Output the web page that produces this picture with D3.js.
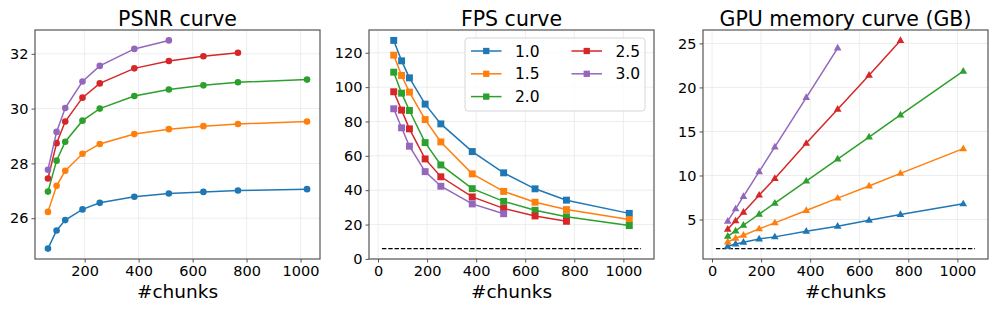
<!DOCTYPE html>
<html>
<head>
<meta charset="utf-8">
<script src="https://cdn.jsdelivr.net/npm/d3@7"></script>
<style>
  body { margin: 0; background: #fff; }
  svg { font-family: "DejaVu Sans", sans-serif; }
</style>
</head>
<body>
<div id="container"></div>
<script>
// x values shared by every curve
const chunks = [64, 96, 128, 192, 256, 384, 512, 640, 768, 1024];
const seriesNames = ["1.0", "1.5", "2.0", "2.5", "3.0"];
const colors = ["#1f77b4", "#ff7f0e", "#2ca02c", "#d62728", "#9467bd"];

// PSNR
const psnr10 = [24.89, 25.55, 25.93, 26.32, 26.56, 26.78, 26.90, 26.96, 27.01, 27.06];
const psnr15 = [26.23, 27.18, 27.73, 28.35, 28.71, 29.07, 29.25, 29.36, 29.44, 29.53];
const psnr20 = [26.97, 28.10, 28.79, 29.56, 30.00, 30.46, 30.70, 30.85, 30.96, 31.06];
const psnr25 = [27.45, 28.74, 29.53, 30.40, 30.92, 31.47, 31.74, 31.91, 32.04];
const psnr30 = [27.77, 29.15, 30.02, 30.99, 31.56, 32.18, 32.49];

// FPS
const fps10 = [127.2, 115.3, 105.4, 90.1, 78.6, 62.5, 50.1, 40.8, 34.2, 26.5];
const fps15 = [118.6, 106.8, 97.1, 81.1, 68.1, 49.5, 39.3, 33.0, 28.7, 22.9];
const fps20 = [108.7, 96.5, 86.4, 67.7, 54.7, 40.9, 33.5, 28.3, 24.5, 19.4];
const fps25 = [97.3, 86.6, 75.7, 58.2, 47.8, 36.1, 29.4, 25.0, 21.9];
const fps30 = [87.4, 76.3, 65.6, 50.8, 42.3, 32.0, 26.3];

// GPU memory (GB)
const gpu10 = [1.96, 2.23, 2.42, 2.80, 3.03, 3.67, 4.24, 4.92, 5.57, 6.78];
const gpu15 = [2.46, 2.87, 3.22, 3.94, 4.62, 6.02, 7.43, 8.80, 10.24, 13.05];
const gpu20 = [3.10, 3.71, 4.35, 5.61, 6.86, 9.36, 11.87, 14.37, 16.88, 21.85];
const gpu25 = [3.90, 4.85, 5.83, 7.77, 9.67, 13.65, 17.52, 21.39, 25.34];
const gpu30 = [4.81, 6.21, 7.62, 10.43, 13.24, 18.85, 24.47];

// dashed reference lines
const refX = [16, 1072];
const fpsRef = 6;
const gpuRef = 1.7;

const psnrTicks = [26, 28, 30, 32];
const fpsTicks = [0, 20, 40, 60, 80, 100, 120];
const gpuTicks = [5, 10, 15, 20, 25];
const xTicks = [0, 200, 400, 600, 800, 1000];

const W = 997, H = 312;
const svg = d3.select("#container").append("svg")
  .attr("width", W).attr("height", H);

// matplotlib style auto limits: 5% margin
function padded(ext) {
  const r = ext[1] - ext[0];
  return [ext[0] - r * 0.05, ext[1] + r * 0.05];
}

const panels = [
  { title: "PSNR curve", left: 35, series: [psnr10, psnr15, psnr20, psnr25, psnr30],
    marker: "circle", yTicks: psnrTicks, ref: null },
  { title: "FPS curve", left: 369, series: [fps10, fps15, fps20, fps25, fps30],
    marker: "square", yTicks: fpsTicks, ref: fpsRef, legend: true },
  { title: "GPU memory curve (GB)", left: 703, series: [gpu10, gpu15, gpu20, gpu25, gpu30],
    marker: "triangle", yTicks: gpuTicks, ref: gpuRef }
];

const pw = 285, ph = 229, plotTop = 30;

function drawMarker(g, type, x, y, color, size) {
  if (type === "circle") {
    g.append("circle").attr("cx", x).attr("cy", y).attr("r", size * 0.5)
      .attr("fill", color);
  } else if (type === "square") {
    const s = size * 1.05;
    g.append("rect").attr("x", x - s / 2).attr("y", y - s / 2)
      .attr("width", s).attr("height", s).attr("fill", color);
  } else {
    const s = size * 0.58;
    g.append("path")
      .attr("d", `M${x},${y - s * 1.1}L${x + s},${y + s * 0.65}L${x - s},${y + s * 0.65}Z`)
      .attr("fill", color);
  }
}

panels.forEach(p => {
  const g = svg.append("g").attr("transform", `translate(${p.left},${plotTop})`);

  let xs = chunks.slice();
  let ys = [].concat(...p.series);
  if (p.ref !== null) { xs = xs.concat(refX); ys.push(p.ref); }

  const x = d3.scaleLinear().domain(padded(d3.extent(xs))).range([0, pw]);
  const y = d3.scaleLinear().domain(padded(d3.extent(ys))).range([ph, 0]);

  const xt = xTicks.filter(t => t >= x.domain()[0] && t <= x.domain()[1]);

  // grid
  g.append("g").selectAll("line").data(xt).join("line")
    .attr("x1", d => x(d)).attr("x2", d => x(d)).attr("y1", 0).attr("y2", ph)
    .attr("stroke", "#ebebeb").attr("stroke-width", 0.9);
  g.append("g").selectAll("line").data(p.yTicks).join("line")
    .attr("y1", d => y(d)).attr("y2", d => y(d)).attr("x1", 0).attr("x2", pw)
    .attr("stroke", "#ebebeb").attr("stroke-width", 0.9);

  // reference dashed line
  if (p.ref !== null) {
    g.append("line")
      .attr("x1", x(refX[0])).attr("x2", x(refX[1]))
      .attr("y1", y(p.ref)).attr("y2", y(p.ref))
      .attr("stroke", "#000").attr("stroke-width", 1.2)
      .attr("stroke-dasharray", "4.4,1.9");
  }

  const line = d3.line().x((d, i) => x(chunks[i])).y(d => y(d));
  p.series.forEach((s, k) => {
    const sg = g.append("g");
    sg.append("path").datum(s).attr("d", line)
      .attr("fill", "none").attr("stroke", colors[k]).attr("stroke-width", 1.5);
    s.forEach((v, i) => drawMarker(sg, p.marker, x(chunks[i]), y(v), colors[k], 6.6));
  });

  // frame
  g.append("rect").attr("width", pw).attr("height", ph)
    .attr("fill", "none").attr("stroke", "#555").attr("stroke-width", 1.2);

  // axes
  const xAxis = d3.axisBottom(x).tickValues(xt).tickFormat(d3.format("d"))
    .tickSize(3.5).tickPadding(3);
  const ax = g.append("g").attr("transform", `translate(0,${ph})`).call(xAxis);
  const yAxis = d3.axisLeft(y).tickValues(p.yTicks).tickFormat(d3.format("d"))
    .tickSize(3.5).tickPadding(3);
  const ay = g.append("g").call(yAxis);
  [ax, ay].forEach(a => {
    a.select(".domain").remove();
    a.selectAll(".tick line").attr("stroke", "#555");
    a.selectAll(".tick text").attr("font-size", 14.5).attr("fill", "#000")
      .attr("font-family", "DejaVu Sans");
  });

  g.append("text").attr("x", pw / 2).attr("y", ph + 39)
    .attr("text-anchor", "middle").attr("font-size", 18.5).text("#chunks");

  g.append("text").attr("x", pw / 2).attr("y", -4)
    .attr("text-anchor", "middle").attr("font-size", 20.5).text(p.title);

  if (p.legend) {
    const lg = g.append("g").attr("transform", "translate(96,8)");
    lg.append("rect").attr("width", 180).attr("height", 73).attr("rx", 3)
      .attr("fill", "#fff").attr("fill-opacity", 0.8)
      .attr("stroke", "#d6d6d6").attr("stroke-width", 1);
    seriesNames.forEach((name, k) => {
      const col = k < 3 ? 0 : 1;
      const row = k < 3 ? k : k - 3;
      const ex = 6 + col * 100.5;
      const ey = 13 + row * 22.8;
      lg.append("line").attr("x1", ex).attr("x2", ex + 30.5).attr("y1", ey).attr("y2", ey)
        .attr("stroke", colors[k]).attr("stroke-width", 1.5);
      drawMarker(lg, "square", ex + 15.25, ey, colors[k], 6);
      lg.append("text").attr("x", ex + 44).attr("y", ey + 5.6)
        .attr("font-size", 15.5).text(name);
    });
  }
});
</script>
</body>
</html>
